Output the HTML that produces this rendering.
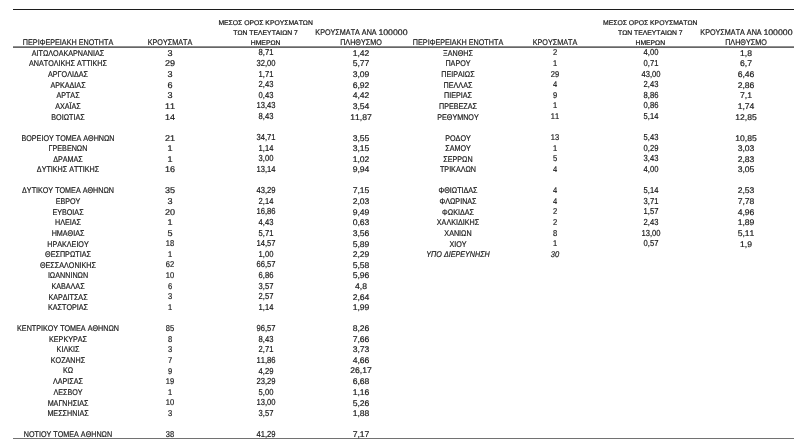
<!DOCTYPE html>
<html lang="el"><head><meta charset="utf-8"><title>table</title><style>
html,body{margin:0;padding:0;background:#fff;}
body{width:808px;height:444px;position:relative;overflow:hidden;font-family:"Liberation Sans",sans-serif;color:#1a1a1a;}
#pg{position:absolute;left:0;top:0;width:808px;height:444px;will-change:transform;}
.t{-webkit-text-stroke:0.2px #1a1a1a;font-kerning:none;text-rendering:geometricPrecision;position:absolute;display:block;white-space:nowrap;height:12px;line-height:12px;transform:translateX(-50%);}
.t.h1{font-size:8.3px;transform:translateX(-50%) scaleX(0.87);}
.t.h3{font-size:6.8px;-webkit-text-stroke-width:0.22px;}
.t.h4{font-size:8.2px;}
.t.n{font-size:8.3px;transform:translateX(-50%) scaleX(0.865);}
.t.c2a{font-size:8.4px;transform:translateX(-50%) scaleX(1.08);}
.t.c2b{font-size:8.4px;transform:translateX(-50%) scaleX(0.9);-webkit-text-stroke-width:0.2px;}
.t.c3{font-size:8.7px;transform:translateX(-50%) scaleX(0.875);-webkit-text-stroke-width:0.2px;}
.t.c4{font-size:8.2px;transform:translateX(-50%) scaleX(1.05);}
.t.it{font-style:italic;}
.ln{position:absolute;}
</style></head>
<body>
<div id="pg">
<div class="ln" style="left:13px;top:9px;width:781px;height:1px;background:#1c1c1c;"></div><div class="ln" style="left:13px;top:46px;width:781px;height:1px;background:#909090;"></div><div class="ln" style="left:13px;top:47px;width:781px;height:1px;background:#666;"></div><div class="ln" style="left:13px;top:438px;width:781px;height:1px;background:#727272;"></div>
<span class="t h1" style="left:67.5px;top:36px;">ΠΕΡΙΦΕΡΕΙΑΚΗ ΕΝΟΤΗΤΑ</span>
<span class="t h1" style="left:170.0px;top:36px;">ΚΡΟΥΣΜΑΤΑ</span>
<span class="t h3" style="left:265.6px;top:17.5px;">ΜΕΣΟΣ ΟΡΟΣ ΚΡΟΥΣΜΑΤΩΝ</span>
<span class="t h3" style="left:265.6px;top:27.5px;">ΤΩΝ ΤΕΛΕΥΤΑΙΩΝ 7</span>
<span class="t h3" style="left:265.6px;top:37.5px;">ΗΜΕΡΩΝ</span>
<span class="t h4" style="left:345.9px;top:27px;transform:translateX(-50%) scaleX(0.88);">ΚΡΟΥΣΜΑΤΑ ΑΝΑ</span>
<span class="t h4" style="left:393.1px;top:27px;transform:translateX(-50%) scaleX(1.07);">100000</span>
<span class="t h4" style="left:361.3px;top:37px;transform:translateX(-50%) scaleX(0.88);">ΠΛΗΘΥΣΜΟ</span>
<span class="t h1" style="left:458.0px;top:36px;">ΠΕΡΙΦΕΡΕΙΑΚΗ ΕΝΟΤΗΤΑ</span>
<span class="t h1" style="left:554.7px;top:36px;">ΚΡΟΥΣΜΑΤΑ</span>
<span class="t h3" style="left:650.3px;top:17.5px;">ΜΕΣΟΣ ΟΡΟΣ ΚΡΟΥΣΜΑΤΩΝ</span>
<span class="t h3" style="left:650.3px;top:27.5px;">ΤΩΝ ΤΕΛΕΥΤΑΙΩΝ 7</span>
<span class="t h3" style="left:650.3px;top:37.5px;">ΗΜΕΡΩΝ</span>
<span class="t h4" style="left:730.8px;top:27px;transform:translateX(-50%) scaleX(0.88);">ΚΡΟΥΣΜΑΤΑ ΑΝΑ</span>
<span class="t h4" style="left:778.0px;top:27px;transform:translateX(-50%) scaleX(1.07);">100000</span>
<span class="t h4" style="left:746.2px;top:37px;transform:translateX(-50%) scaleX(0.88);">ΠΛΗΘΥΣΜΟ</span>
<span class="t n" style="left:67.5px;top:47px;">ΑΙΤΩΛΟΑΚΑΡΝΑΝΙΑΣ</span>
<span class="t c2a" style="left:170.0px;top:47px;">3</span>
<span class="t c3" style="left:265.9px;top:46px;">8,71</span>
<span class="t c4" style="left:361.0px;top:48px;">1,42</span>
<span class="t n" style="left:67.5px;top:57px;">ΑΝΑΤΟΛΙΚΗΣ ΑΤΤΙΚΗΣ</span>
<span class="t c2a" style="left:170.0px;top:57px;">29</span>
<span class="t c3" style="left:265.9px;top:57px;">32,00</span>
<span class="t c4" style="left:361.0px;top:58px;">5,77</span>
<span class="t n" style="left:67.5px;top:68px;">ΑΡΓΟΛΙΔΑΣ</span>
<span class="t c2a" style="left:170.0px;top:68px;">3</span>
<span class="t c3" style="left:265.9px;top:68px;">1,71</span>
<span class="t c4" style="left:361.0px;top:69px;">3,09</span>
<span class="t n" style="left:67.5px;top:79px;">ΑΡΚΑΔΙΑΣ</span>
<span class="t c2a" style="left:170.0px;top:79px;">6</span>
<span class="t c3" style="left:265.9px;top:78px;">2,43</span>
<span class="t c4" style="left:361.0px;top:80px;">6,92</span>
<span class="t n" style="left:67.5px;top:89px;">ΑΡΤΑΣ</span>
<span class="t c2a" style="left:170.0px;top:89px;">3</span>
<span class="t c3" style="left:265.9px;top:89px;">0,43</span>
<span class="t c4" style="left:361.0px;top:90px;">4,42</span>
<span class="t n" style="left:67.5px;top:100px;">ΑΧΑΪΑΣ</span>
<span class="t c2a" style="left:170.0px;top:100px;">11</span>
<span class="t c3" style="left:265.9px;top:99px;">13,43</span>
<span class="t c4" style="left:361.0px;top:101px;">3,54</span>
<span class="t n" style="left:67.5px;top:111px;">ΒΟΙΩΤΙΑΣ</span>
<span class="t c2a" style="left:170.0px;top:111px;">14</span>
<span class="t c3" style="left:265.9px;top:110px;">8,43</span>
<span class="t c4" style="left:361.0px;top:112px;">11,87</span>
<span class="t n" style="left:67.5px;top:132px;">ΒΟΡΕΙΟΥ ΤΟΜΕΑ ΑΘΗΝΩΝ</span>
<span class="t c2a" style="left:170.0px;top:132px;">21</span>
<span class="t c3" style="left:265.9px;top:131px;">34,71</span>
<span class="t c4" style="left:361.0px;top:133px;">3,55</span>
<span class="t n" style="left:67.5px;top:142px;">ΓΡΕΒΕΝΩΝ</span>
<span class="t c2a" style="left:170.0px;top:142px;">1</span>
<span class="t c3" style="left:265.9px;top:142px;">1,14</span>
<span class="t c4" style="left:361.0px;top:143px;">3,15</span>
<span class="t n" style="left:67.5px;top:153px;">ΔΡΑΜΑΣ</span>
<span class="t c2a" style="left:170.0px;top:153px;">1</span>
<span class="t c3" style="left:265.9px;top:152px;">3,00</span>
<span class="t c4" style="left:361.0px;top:154px;">1,02</span>
<span class="t n" style="left:67.5px;top:163px;">ΔΥΤΙΚΗΣ ΑΤΤΙΚΗΣ</span>
<span class="t c2a" style="left:170.0px;top:163px;">16</span>
<span class="t c3" style="left:265.9px;top:163px;">13,14</span>
<span class="t c4" style="left:361.0px;top:164px;">9,94</span>
<span class="t n" style="left:67.5px;top:184px;">ΔΥΤΙΚΟΥ ΤΟΜΕΑ ΑΘΗΝΩΝ</span>
<span class="t c2a" style="left:170.0px;top:184px;">35</span>
<span class="t c3" style="left:265.9px;top:184px;">43,29</span>
<span class="t c4" style="left:361.0px;top:185px;">7,15</span>
<span class="t n" style="left:67.5px;top:195px;">ΕΒΡΟΥ</span>
<span class="t c2a" style="left:170.0px;top:195px;">3</span>
<span class="t c3" style="left:265.9px;top:195px;">2,14</span>
<span class="t c4" style="left:361.0px;top:196px;">2,03</span>
<span class="t n" style="left:67.5px;top:206px;">ΕΥΒΟΙΑΣ</span>
<span class="t c2a" style="left:170.0px;top:206px;">20</span>
<span class="t c3" style="left:265.9px;top:205px;">16,86</span>
<span class="t c4" style="left:361.0px;top:207px;">9,49</span>
<span class="t n" style="left:67.5px;top:216px;">ΗΛΕΙΑΣ</span>
<span class="t c2a" style="left:170.0px;top:216px;">1</span>
<span class="t c3" style="left:265.9px;top:216px;">4,43</span>
<span class="t c4" style="left:361.0px;top:217px;">0,63</span>
<span class="t n" style="left:67.5px;top:227px;">ΗΜΑΘΙΑΣ</span>
<span class="t c2a" style="left:170.0px;top:227px;">5</span>
<span class="t c3" style="left:265.9px;top:227px;">5,71</span>
<span class="t c4" style="left:361.0px;top:228px;">3,56</span>
<span class="t n" style="left:67.5px;top:238px;">ΗΡΑΚΛΕΙΟΥ</span>
<span class="t c2b" style="left:170.0px;top:237px;">18</span>
<span class="t c3" style="left:265.9px;top:237px;">14,57</span>
<span class="t c4" style="left:361.0px;top:239px;">5,89</span>
<span class="t n" style="left:67.5px;top:248px;">ΘΕΣΠΡΩΤΙΑΣ</span>
<span class="t c2b" style="left:170.0px;top:248px;">1</span>
<span class="t c3" style="left:265.9px;top:248px;">1,00</span>
<span class="t c4" style="left:361.0px;top:249px;">2,29</span>
<span class="t n" style="left:67.5px;top:259px;">ΘΕΣΣΑΛΟΝΙΚΗΣ</span>
<span class="t c2b" style="left:170.0px;top:258px;">62</span>
<span class="t c3" style="left:265.9px;top:258px;">66,57</span>
<span class="t c4" style="left:361.0px;top:260px;">5,58</span>
<span class="t n" style="left:67.5px;top:269px;">ΙΩΑΝΝΙΝΩΝ</span>
<span class="t c2b" style="left:170.0px;top:269px;">10</span>
<span class="t c3" style="left:265.9px;top:269px;">6,86</span>
<span class="t c4" style="left:361.0px;top:270px;">5,96</span>
<span class="t n" style="left:67.5px;top:280px;">ΚΑΒΑΛΑΣ</span>
<span class="t c2b" style="left:170.0px;top:280px;">6</span>
<span class="t c3" style="left:265.9px;top:280px;">3,57</span>
<span class="t c4" style="left:361.0px;top:281px;">4,8</span>
<span class="t n" style="left:67.5px;top:291px;">ΚΑΡΔΙΤΣΑΣ</span>
<span class="t c2b" style="left:170.0px;top:290px;">3</span>
<span class="t c3" style="left:265.9px;top:290px;">2,57</span>
<span class="t c4" style="left:361.0px;top:292px;">2,64</span>
<span class="t n" style="left:67.5px;top:301px;">ΚΑΣΤΟΡΙΑΣ</span>
<span class="t c2b" style="left:170.0px;top:301px;">1</span>
<span class="t c3" style="left:265.9px;top:301px;">1,14</span>
<span class="t c4" style="left:361.0px;top:302px;">1,99</span>
<span class="t n" style="left:67.5px;top:322px;">ΚΕΝΤΡΙΚΟΥ ΤΟΜΕΑ ΑΘΗΝΩΝ</span>
<span class="t c2b" style="left:170.0px;top:322px;">85</span>
<span class="t c3" style="left:265.9px;top:322px;">96,57</span>
<span class="t c4" style="left:361.0px;top:323px;">8,26</span>
<span class="t n" style="left:67.5px;top:333px;">ΚΕΡΚΥΡΑΣ</span>
<span class="t c2b" style="left:170.0px;top:333px;">8</span>
<span class="t c3" style="left:265.9px;top:333px;">8,43</span>
<span class="t c4" style="left:361.0px;top:334px;">7,66</span>
<span class="t n" style="left:67.5px;top:343px;">ΚΙΛΚΙΣ</span>
<span class="t c2b" style="left:170.0px;top:343px;">3</span>
<span class="t c3" style="left:265.9px;top:343px;">2,71</span>
<span class="t c4" style="left:361.0px;top:344px;">3,73</span>
<span class="t n" style="left:67.5px;top:354px;">ΚΟΖΑΝΗΣ</span>
<span class="t c2b" style="left:170.0px;top:354px;">7</span>
<span class="t c3" style="left:265.9px;top:354px;">11,86</span>
<span class="t c4" style="left:361.0px;top:355px;">4,66</span>
<span class="t n" style="left:67.5px;top:364px;">ΚΩ</span>
<span class="t c2b" style="left:170.0px;top:365px;">9</span>
<span class="t c3" style="left:265.9px;top:365px;">4,29</span>
<span class="t c4" style="left:361.0px;top:365px;">26,17</span>
<span class="t n" style="left:67.5px;top:375px;">ΛΑΡΙΣΑΣ</span>
<span class="t c2b" style="left:170.0px;top:375px;">19</span>
<span class="t c3" style="left:265.9px;top:375px;">23,29</span>
<span class="t c4" style="left:361.0px;top:376px;">6,68</span>
<span class="t n" style="left:67.5px;top:386px;">ΛΕΣΒΟΥ</span>
<span class="t c2b" style="left:170.0px;top:386px;">1</span>
<span class="t c3" style="left:265.9px;top:386px;">5,00</span>
<span class="t c4" style="left:361.0px;top:387px;">1,16</span>
<span class="t n" style="left:67.5px;top:397px;">ΜΑΓΝΗΣΙΑΣ</span>
<span class="t c2b" style="left:170.0px;top:396px;">10</span>
<span class="t c3" style="left:265.9px;top:396px;">13,00</span>
<span class="t c4" style="left:361.0px;top:398px;">5,26</span>
<span class="t n" style="left:67.5px;top:407px;">ΜΕΣΣΗΝΙΑΣ</span>
<span class="t c2b" style="left:170.0px;top:407px;">3</span>
<span class="t c3" style="left:265.9px;top:407px;">3,57</span>
<span class="t c4" style="left:361.0px;top:408px;">1,88</span>
<span class="t n" style="left:67.5px;top:428px;">ΝΟΤΙΟΥ ΤΟΜΕΑ ΑΘΗΝΩΝ</span>
<span class="t c2b" style="left:170.0px;top:428px;">38</span>
<span class="t c3" style="left:265.9px;top:428px;">41,29</span>
<span class="t c4" style="left:361.0px;top:429px;">7,17</span>
<span class="t n" style="left:458.0px;top:47px;">ΞΑΝΘΗΣ</span>
<span class="t c2b" style="left:554.7px;top:46px;">2</span>
<span class="t c3" style="left:650.5px;top:46px;">4,00</span>
<span class="t c4" style="left:745.9px;top:48px;">1,8</span>
<span class="t n" style="left:458.0px;top:57px;">ΠΑΡΟΥ</span>
<span class="t c2b" style="left:554.7px;top:57px;">1</span>
<span class="t c3" style="left:650.5px;top:57px;">0,71</span>
<span class="t c4" style="left:745.9px;top:58px;">6,7</span>
<span class="t n" style="left:458.0px;top:68px;">ΠΕΙΡΑΙΩΣ</span>
<span class="t c2b" style="left:554.7px;top:68px;">29</span>
<span class="t c3" style="left:650.5px;top:68px;">43,00</span>
<span class="t c4" style="left:745.9px;top:69px;">6,46</span>
<span class="t n" style="left:458.0px;top:79px;">ΠΕΛΛΑΣ</span>
<span class="t c2b" style="left:554.7px;top:78px;">4</span>
<span class="t c3" style="left:650.5px;top:78px;">2,43</span>
<span class="t c4" style="left:745.9px;top:80px;">2,86</span>
<span class="t n" style="left:458.0px;top:89px;">ΠΙΕΡΙΑΣ</span>
<span class="t c2b" style="left:554.7px;top:89px;">9</span>
<span class="t c3" style="left:650.5px;top:89px;">8,86</span>
<span class="t c4" style="left:745.9px;top:90px;">7,1</span>
<span class="t n" style="left:458.0px;top:100px;">ΠΡΕΒΕΖΑΣ</span>
<span class="t c2b" style="left:554.7px;top:99px;">1</span>
<span class="t c3" style="left:650.5px;top:99px;">0,86</span>
<span class="t c4" style="left:745.9px;top:101px;">1,74</span>
<span class="t n" style="left:458.0px;top:111px;">ΡΕΘΥΜΝΟΥ</span>
<span class="t c2b" style="left:554.7px;top:110px;">11</span>
<span class="t c3" style="left:650.5px;top:110px;">5,14</span>
<span class="t c4" style="left:745.9px;top:112px;">12,85</span>
<span class="t n" style="left:458.0px;top:132px;">ΡΟΔΟΥ</span>
<span class="t c2b" style="left:554.7px;top:131px;">13</span>
<span class="t c3" style="left:650.5px;top:131px;">5,43</span>
<span class="t c4" style="left:745.9px;top:133px;">10,85</span>
<span class="t n" style="left:458.0px;top:142px;">ΣΑΜΟΥ</span>
<span class="t c2b" style="left:554.7px;top:142px;">1</span>
<span class="t c3" style="left:650.5px;top:142px;">0,29</span>
<span class="t c4" style="left:745.9px;top:143px;">3,03</span>
<span class="t n" style="left:458.0px;top:153px;">ΣΕΡΡΩΝ</span>
<span class="t c2b" style="left:554.7px;top:152px;">5</span>
<span class="t c3" style="left:650.5px;top:152px;">3,43</span>
<span class="t c4" style="left:745.9px;top:154px;">2,83</span>
<span class="t n" style="left:458.0px;top:163px;">ΤΡΙΚΑΛΩΝ</span>
<span class="t c2b" style="left:554.7px;top:163px;">4</span>
<span class="t c3" style="left:650.5px;top:163px;">4,00</span>
<span class="t c4" style="left:745.9px;top:164px;">3,05</span>
<span class="t n" style="left:458.0px;top:184px;">ΦΘΙΩΤΙΔΑΣ</span>
<span class="t c2b" style="left:554.7px;top:184px;">4</span>
<span class="t c3" style="left:650.5px;top:184px;">5,14</span>
<span class="t c4" style="left:745.9px;top:185px;">2,53</span>
<span class="t n" style="left:458.0px;top:195px;">ΦΛΩΡΙΝΑΣ</span>
<span class="t c2b" style="left:554.7px;top:195px;">4</span>
<span class="t c3" style="left:650.5px;top:195px;">3,71</span>
<span class="t c4" style="left:745.9px;top:196px;">7,78</span>
<span class="t n" style="left:458.0px;top:206px;">ΦΩΚΙΔΑΣ</span>
<span class="t c2b" style="left:554.7px;top:205px;">2</span>
<span class="t c3" style="left:650.5px;top:205px;">1,57</span>
<span class="t c4" style="left:745.9px;top:207px;">4,96</span>
<span class="t n" style="left:458.0px;top:216px;">ΧΑΛΚΙΔΙΚΗΣ</span>
<span class="t c2b" style="left:554.7px;top:216px;">2</span>
<span class="t c3" style="left:650.5px;top:216px;">2,43</span>
<span class="t c4" style="left:745.9px;top:217px;">1,89</span>
<span class="t n" style="left:458.0px;top:227px;">ΧΑΝΙΩΝ</span>
<span class="t c2b" style="left:554.7px;top:227px;">8</span>
<span class="t c3" style="left:650.5px;top:227px;">13,00</span>
<span class="t c4" style="left:745.9px;top:228px;">5,11</span>
<span class="t n" style="left:458.0px;top:238px;">ΧΙΟΥ</span>
<span class="t c2b" style="left:554.7px;top:237px;">1</span>
<span class="t c3" style="left:650.5px;top:237px;">0,57</span>
<span class="t c4" style="left:745.9px;top:239px;">1,9</span>
<span class="t n it" style="left:458.0px;top:248px;">ΥΠΟ ΔΙΕΡΕΥΝΗΣΗ</span>
<span class="t c2b it" style="left:554.7px;top:248px;">30</span>
</div>
</body></html>
